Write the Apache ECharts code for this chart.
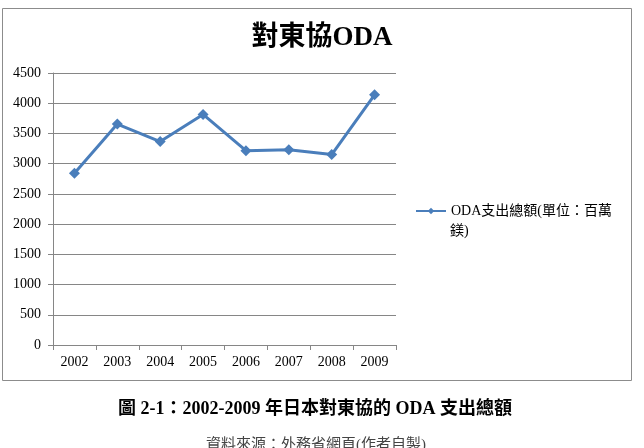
<!DOCTYPE html>
<html>
<head>
<meta charset="utf-8">
<script src="https://cdn.jsdelivr.net/npm/echarts@6/dist/echarts.min.js"></script>
<style>
  html, body { margin: 0; padding: 0; background: #fff; }
  #chart { width: 644px; height: 448px; }
</style>
</head>
<body>
<div id="chart"></div>
<script>
// 對東協ODA 2002-2009
const years = ['2002', '2003', '2004', '2005', '2006', '2007', '2008', '2009'];
const odaTotal = [2840, 3655, 3365, 3815, 3215, 3230, 3150, 4140];
const seriesName = 'ODA支出總額(單位：百萬鎂)';

const serif = '"Liberation Serif", "Noto Sans CJK TC", serif';

let myChart = echarts.init(document.getElementById('chart'));
let option = {
  animation: false,
  title: [
    {
      text: '對東協ODA',
      left: 317,
      top: 20,
      textAlign: 'center',
      textStyle: { fontFamily: serif, fontSize: 27, fontWeight: 'bold', color: '#000' }
    },
    {
      text: '圖 2-1：2002-2009 年日本對東協的 ODA 支出總額',
      left: 310,
      top: 395,
      textAlign: 'center',
      textStyle: { fontFamily: serif, fontSize: 18, fontWeight: 'bold', color: '#000' }
    },
    {
      text: '資料來源：外務省網頁(作者自製)',
      left: 311,
      top: 433,
      textAlign: 'center',
      textStyle: { fontFamily: serif, fontSize: 15, fontWeight: 'normal', color: '#444' }
    }
  ],
  graphic: [
    {
      type: 'rect',
      shape: { x: 2.5, y: 8.5, width: 629, height: 372 },
      style: { fill: 'none', stroke: '#8c8c8c', lineWidth: 1 },
      silent: true
    },
    {
      // legend label wraps; second line sits under the text
      type: 'text',
      left: 450,
      top: 224,
      style: { text: '鎂)', font: '14px ' + serif, fill: '#000' },
      silent: true
    }
  ],
  legend: {
    data: [seriesName],
    left: 410,
    top: 199,
    itemWidth: 30,
    itemHeight: 8,
    formatter: function (name) {
      return name.slice(0, name.indexOf('萬') + 1);
    },
    textStyle: { fontFamily: serif, fontSize: 14, color: '#000' }
  },
  grid: {
    left: 53,
    right: 248,
    top: 73,
    bottom: 103
  },
  xAxis: {
    type: 'category',
    data: years,
    boundaryGap: true,
    axisLine: { lineStyle: { color: '#868686', width: 1 } },
    axisTick: { show: true, length: 5, lineStyle: { color: '#868686' } },
    axisLabel: { fontFamily: serif, fontSize: 14, color: '#000', margin: 10 }
  },
  yAxis: {
    type: 'value',
    min: 0,
    max: 4500,
    interval: 500,
    axisLine: { show: true, lineStyle: { color: '#868686', width: 1 } },
    axisTick: { show: true, length: 5, lineStyle: { color: '#868686' } },
    axisLabel: {
      fontFamily: serif, fontSize: 14, color: '#000', margin: 12,
      formatter: function (v) { return String(v); }
    },
    splitLine: { lineStyle: { color: '#868686', width: 1 } }
  },
  series: [
    {
      name: seriesName,
      type: 'line',
      data: odaTotal,
      symbol: 'diamond',
      symbolSize: 11,
      lineStyle: { color: '#4a7ebb', width: 3 },
      itemStyle: { color: '#4a7ebb' }
    }
  ]
};
myChart.setOption(option);
</script>
</body>
</html>
